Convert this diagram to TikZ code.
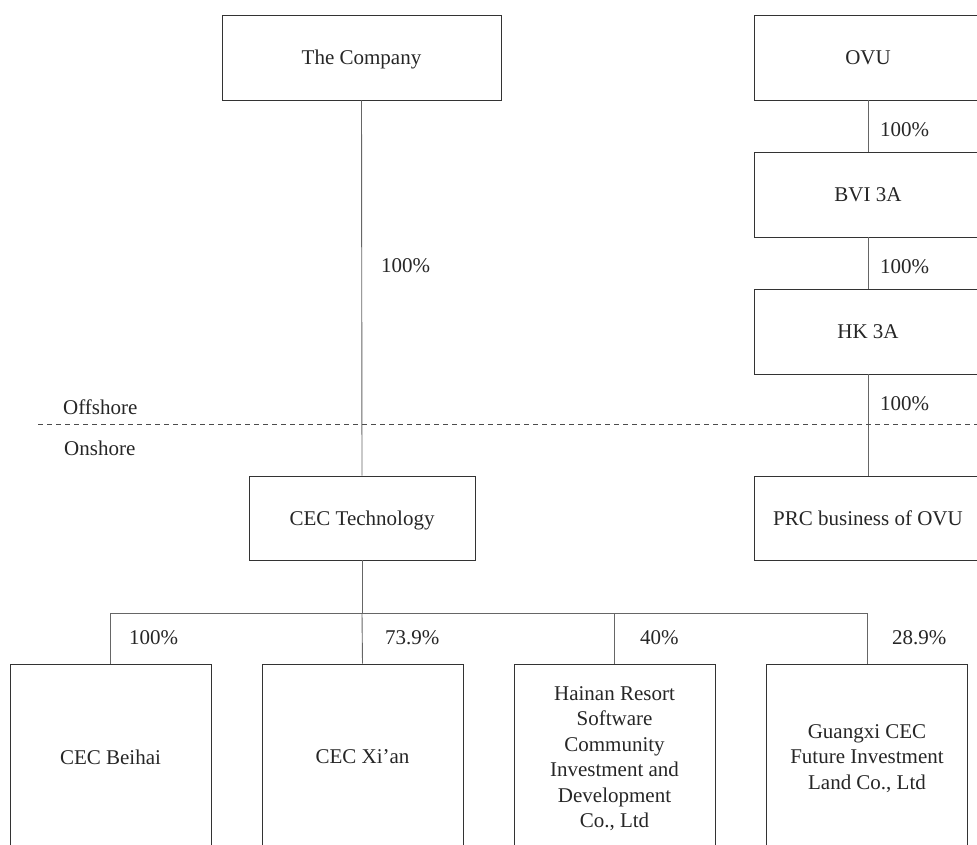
\documentclass[tikz,border=0pt]{standalone}
\usepackage{fontspec}
\setmainfont{Liberation Serif}
\begin{document}
\begin{tikzpicture}[x=1pt,y=-1pt,
  every node/.style={font=\fontsize{21}{25.5}\selectfont, text=black!85},
  box/.style={draw=black!80, line width=0.8pt, rectangle, align=center, inner sep=0pt, text depth=0pt},
  conn/.style={draw=black!60, line width=0.9pt},
  pct/.style={anchor=west, inner sep=0pt}]
\useasboundingbox (0,0) rectangle (977,844);
\clip (0,0) rectangle (977,844);
% top nodes
\node[box, minimum width=279pt, minimum height=85pt] (comp) at (361.5,57.5) {The Company};
\node[box, minimum width=228pt, minimum height=85pt] (ovu) at (868,57.5) {OVU};
\node[box, minimum width=228pt, minimum height=85pt] (bvi) at (868,194.5) {BVI 3A};
\node[box, minimum width=228pt, minimum height=85pt] (hk) at (868,331.5) {HK 3A};
\node[box, minimum width=226pt, minimum height=84pt] (tech) at (362,518) {CEC Technology};
\node[box, minimum width=228pt, minimum height=84pt] (prc) at (868,518) {PRC business of OVU};
% bottom nodes
\node[box, minimum width=201pt, minimum height=186pt] (beihai) at (110.5,757) {CEC Beihai};
\node[box, minimum width=201pt, minimum height=186pt] (xian) at (362.5,757) {CEC Xi'an};
\node[box, minimum width=201pt, minimum height=186pt] (hainan) at (614.5,757) {Hainan Resort\\Software\\Community\\Investment and\\Development\\Co., Ltd};
\node[box, minimum width=201pt, minimum height=186pt] (guangxi) at (867,757) {Guangxi CEC\\Future Investment\\Land Co., Ltd};
% connectors
\draw[conn] (comp.south) -- (tech.north);
\draw[conn] (ovu.south) -- (bvi.north);
\draw[conn] (bvi.south) -- (hk.north);
\draw[conn] (hk.south) -- (prc.north);
\coordinate (bus) at (362,613);
\draw[conn] (tech.south) -- (bus);
\draw[conn] (beihai.north) |- (bus) -| (guangxi.north);
\draw[conn] (xian.north) -- (bus);
\draw[conn] (hainan.north) -- (hainan.north |- bus);
% labels
\node[pct] (p1) at (381,266) {100\%};
\node[pct] (p2) at (880,130) {100\%};
\node[pct] (p3) at (880,267) {100\%};
\node[pct] (p4) at (880,404) {100\%};
\node[pct] (p5) at (129,638) {100\%};
\node[pct] (p6) at (385,638) {73.9\%};
\node[pct] (p7) at (640,638) {40\%};
\node[pct] (p8) at (892,638) {28.9\%};
% offshore / onshore
\coordinate (dl) at (38,424);
\coordinate (dr) at (977,424);
\draw[black!70, line width=0.8pt, dash pattern=on 5pt off 4pt] (dl) -- (dr);
\node[pct] (off) at (63,407) {Offshore};
\node[pct] (on) at (64,448) {Onshore};
\end{tikzpicture}
\end{document}
